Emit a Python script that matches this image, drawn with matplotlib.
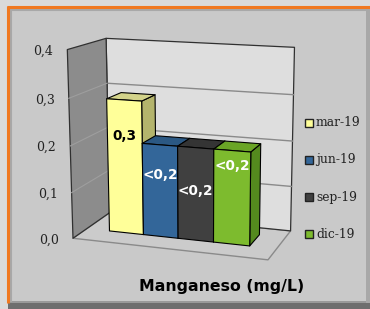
import numpy as np
import matplotlib
matplotlib.use("Agg")
import matplotlib.pyplot as plt
from matplotlib.patches import Polygon, Rectangle

# ---------------- data ----------------
series = ["mar-19", "jun-19", "sep-19", "dic-19"]
values = [0.29, 0.2, 0.2, 0.2]
value_labels = ["0,3", "<0,2", "<0,2", "<0,2"]
yticks = [0.0, 0.1, 0.2, 0.3, 0.4]
ytick_labels = ["0,0", "0,1", "0,2", "0,3", "0,4"]
title = "Manganeso (mg/L)"

# ---------------- style ----------------
front_colors = ["#FFFF99", "#336699", "#404040", "#7DBB2E"]
top_colors = ["#D3D38A", "#2B5883", "#343434", "#6AA526"]
side_colors = ["#B4B46C", "#234A70", "#2A2A2A", "#548A1E"]
label_colors = ["black", "white", "white", "white"]
label_height = [0.212, 0.136, 0.108, 0.168]   # where each label sits on its bar

W, H = 370, 309
VMAX = 0.4
NCAT = 4.0
BAR_U0, BAR_W = 0.50, 0.74
BAR_D0, BAR_D1 = 0.36, 0.76

# perspective camera fitted to the plot frame (wall corners)
frame_world = [(0, 0.4, 0), (0, 0.0, 0), (0, 0.4, 1), (0, 0.0, 1), (4, 0.4, 1),
               (4, 0.0, 1), (4, 0.0, 0), (0, 0.3, 1), (4, 0.3, 1), (4, 0.2, 1), (0, 0.3, 0)]
frame_px = [(67, 50), (75, 236), (107, 38), (108, 215), (295, 48),
            (291, 229), (268, 262), (108, 83), (293, 95), (292, 140), (67, 98)]


def fit_camera(world, px):
    rows = []
    for (u, v, w), (x, y) in zip(world, px):
        X = np.array([u, v * 10.0, w * 4.0, 1.0])
        x, y = x / 100.0, y / 100.0
        rows.append(np.concatenate([X, np.zeros(4), -x * X]))
        rows.append(np.concatenate([np.zeros(4), X, -y * X]))
    _, _, vt = np.linalg.svd(np.array(rows))
    return vt[-1].reshape(3, 4)


P = fit_camera(frame_world, frame_px)


def proj(u, v, w):
    r = P @ np.array([u, v * 10.0, w * 4.0, 1.0])
    return (r[0] / r[2] * 100.0, r[1] / r[2] * 100.0)


def poly(ax, pts, fc, ec="none", lw=0.8, z=1):
    ax.add_patch(Polygon([proj(*p) for p in pts], closed=True, fc=fc, ec=ec,
                         lw=lw, zorder=z, joinstyle="round"))


fig = plt.figure(figsize=(W / 100, H / 100), dpi=100)
fig.patch.set_facecolor("#DADADA")
ax = fig.add_axes([0, 0, 1, 1])
ax.set_xlim(0, W)
ax.set_ylim(H, 0)
ax.axis("off")

# chart area, bevel and border
ax.add_patch(Rectangle((8, 6), W - 8, H - 6, fc="#C9C9C9", ec="none", zorder=0))
ax.add_patch(Rectangle((8, 303), W - 8, 6, fc="#6E6E6E", ec="none", zorder=0.1))
ax.add_patch(Rectangle((8, 301), W - 8, 2, fc="#9A9A9A", ec="none", zorder=0.1))
ax.add_patch(Rectangle((366, 6), 4, 297, fc="#A8A8A8", ec="none", zorder=0.1))
ax.plot([10.5, 10.5], [9, 301], color="#A8A8A8", lw=1.5, zorder=0.2)
ax.plot([10, 366], [9.5, 9.5], color="#A8A8A8", lw=1.5, zorder=0.2)
ax.plot([8, 8], [6, 303], color="#F07820", lw=2.2, zorder=0.3, solid_capstyle="butt")
ax.plot([7, W], [6.5, 6.5], color="#F07820", lw=2.2, zorder=0.3, solid_capstyle="butt")

# walls and floor
poly(ax, [(0, 0, 0), (4, 0, 0), (4, 0, 1), (0, 0, 1)], "#CBCBCB", ec="#8A8A8A", lw=1.0, z=1)
poly(ax, [(0, 0, 1), (4, 0, 1), (4, VMAX, 1), (0, VMAX, 1)], "#DEDEDE", ec="#303030", lw=0.9, z=1.1)
poly(ax, [(0, 0, 0), (0, VMAX, 0), (0, VMAX, 1), (0, 0, 1)], "#8C8C8C", ec="#303030", lw=0.9, z=1.2)

for t in yticks[1:-1]:
    xs, ys = zip(proj(0, t, 1), proj(NCAT, t, 1))
    ax.plot(xs, ys, color="#8A8A8A", lw=1.0, zorder=1.15)
    xs, ys = zip(proj(0, t, 0), proj(0, t, 1))
    ax.plot(xs, ys, color="#9E9E9E", lw=0.8, zorder=1.25)

# tick labels
for t, lab in zip(yticks, ytick_labels):
    x, y = proj(0, t, 0)
    ax.text(x - 14, y + 1.5, lab, ha="right", va="center", fontsize=9,
            family="DejaVu Serif", color="#222222", zorder=3)

# bars
for i, val in enumerate(values):
    u0 = BAR_U0 + i * BAR_W
    u1 = u0 + BAR_W
    z = 2 + i * 0.1
    poly(ax, [(u1, 0, BAR_D0), (u1, 0, BAR_D1), (u1, val, BAR_D1), (u1, val, BAR_D0)],
         side_colors[i], ec="black", lw=0.8, z=z)
    poly(ax, [(u0, val, BAR_D0), (u1, val, BAR_D0), (u1, val, BAR_D1), (u0, val, BAR_D1)],
         top_colors[i], ec="black", lw=0.8, z=z)
    poly(ax, [(u0, 0, BAR_D0), (u1, 0, BAR_D0), (u1, val, BAR_D0), (u0, val, BAR_D0)],
         front_colors[i], ec="black", lw=0.8, z=z)
    lx, ly = proj((u0 + u1) / 2, label_height[i], BAR_D0)
    ax.text(lx, ly, value_labels[i], ha="center", va="center", fontsize=9.8,
            fontweight="bold", color=label_colors[i], family="DejaVu Sans", zorder=3)

# legend
leg_y = [123, 160, 197, 234]
for name, col, y in zip(series, front_colors, leg_y):
    ax.add_patch(Rectangle((305, y - 4), 8, 8, fc=col, ec="#222222", lw=1.0, zorder=3))
    ax.text(316, y, name, ha="left", va="center", fontsize=8.8,
            family="DejaVu Serif", color="#222222", zorder=3)

# axis title
ax.text(221.5, 287, title, ha="center", va="center", fontsize=11.3,
        fontweight="bold", family="DejaVu Sans", color="black", zorder=3)

fig.savefig("out.png", dpi=100, facecolor=fig.get_facecolor())
